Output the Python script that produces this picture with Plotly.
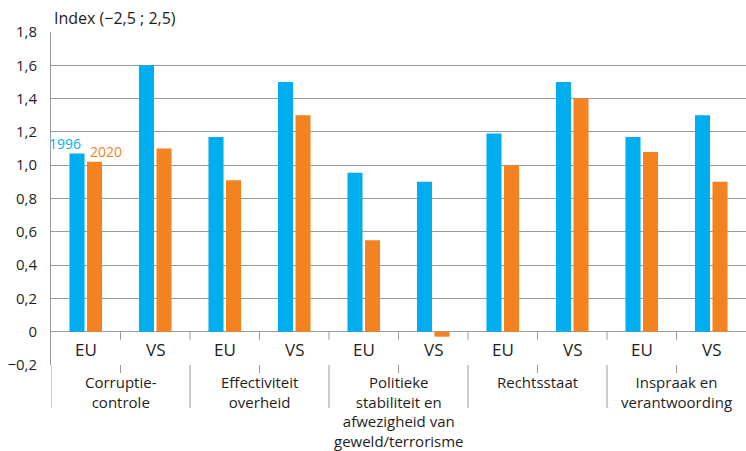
import plotly.graph_objects as go

groups = ["Corruptie-<br>controle", "Effectiviteit<br>overheid",
          "Politieke<br>stabiliteit en<br>afwezigheid van<br>geweld/terrorisme",
          "Rechtsstaat", "Inspraak en<br>verantwoording"]
subs = ["EU", "VS"]
series_names = ["1996", "2020"]
v1996 = [1.07, 1.60, 1.17, 1.50, 0.955, 0.90, 1.19, 1.50, 1.17, 1.30]
v2020 = [1.02, 1.10, 0.91, 1.30, 0.55, -0.03, 1.00, 1.40, 1.08, 0.90]
yticks = [-0.2, 0, 0.2, 0.4, 0.6, 0.8, 1.0, 1.2, 1.4, 1.6, 1.8]
yticktext = ["\u22120,2", "0", "0,2", "0,4", "0,6", "0,8", "1,0", "1,2", "1,4", "1,6", "1,8"]

BLUE = "#00ADEF"
ORANGE = "#F58220"
GRID = "#999999"
TXT = "#1e1e1e"
FONT = "Open Sans"

xpos = list(range(len(v1996)))

fig = go.Figure()
fig.add_trace(go.Bar(x=xpos, y=v1996, name=series_names[0], marker_color=BLUE,
                     marker_line_width=0))
fig.add_trace(go.Bar(x=xpos, y=v2020, name=series_names[1], marker_color=ORANGE,
                     marker_line_width=0))

W, H = 746, 451
ML, MR = 51, 0
PT, PB = 32, 365
PH = PB - PT
PW = W - ML - MR

def py2paper(py):
    return (PB - py) / PH

def px2paper(px):
    return (px - ML) / PW

shapes = []
n = len(xpos)
# small ticks at the 0 line at every subgroup boundary
for k in range(n - 1):
    b = k + 0.5
    shapes.append(dict(type="line", xref="x", yref="y", x0=b, x1=b, y0=0, y1=-0.048,
                       line=dict(color=GRID, width=1)))
# ticks at the -0.2 line at subgroup midpoints inside groups
for g in range(len(groups)):
    m = 2 * g + 0.5
    shapes.append(dict(type="line", xref="x", yref="paper", x0=m, x1=m, y0=0, y1=py2paper(373),
                       line=dict(color=GRID, width=1)))
# group divider lines
for g in range(len(groups)):
    b = 2 * g - 0.5
    shapes.append(dict(type="line", xref="x", yref="paper", x0=b, x1=b, y0=0, y1=py2paper(408),
                       line=dict(color=GRID, width=1)))

annotations = []
for i in xpos:
    annotations.append(dict(x=i, y=-0.1, xref="x", yref="y", text=subs[i % 2], showarrow=False,
                            yshift=-1, font=dict(family=FONT, size=17, color=TXT)))
for g, lab in enumerate(groups):
    annotations.append(dict(x=2 * g + 0.5, y=py2paper(371), xref="x", yref="paper",
                            text=lab, showarrow=False, yanchor="top", xanchor="center",
                            borderpad=0, font=dict(family=FONT, size=15, color=TXT)))
annotations.append(dict(x=px2paper(52), y=py2paper(18), xref="paper", yref="paper",
                        text="Index (\u22122,5 ; 2,5)",
                        showarrow=False, xanchor="left", yanchor="middle",
                        font=dict(family=FONT, size=16, color=TXT)))
# series labels
annotations.append(dict(x=-0.04, y=v1996[0], xref="x", yref="y", text=series_names[0],
                        showarrow=False, xanchor="right", yanchor="bottom", yshift=-1,
                        font=dict(family=FONT, size=14, color=BLUE)))
annotations.append(dict(x=0.03, y=v2020[0], xref="x", yref="y", text=series_names[1],
                        showarrow=False, xanchor="left", yanchor="bottom", yshift=-1,
                        font=dict(family=FONT, size=14, color=ORANGE)))

fig.update_layout(
    width=W, height=H,
    margin=dict(l=ML, r=MR, t=PT, b=H - PB, pad=0, autoexpand=False),
    paper_bgcolor="white", plot_bgcolor="white",
    barmode="group", bargap=0.496, bargroupgap=0.14,
    showlegend=False,
    font=dict(family=FONT, size=15, color=TXT),
    xaxis=dict(range=[-0.5, n - 0.5], showticklabels=False, showgrid=False, zeroline=False,
               showline=False, ticks="", fixedrange=True),
    yaxis=dict(range=[-0.2, 1.8], tickvals=yticks, ticktext=yticktext, showgrid=True,
               gridcolor=GRID, gridwidth=1, zeroline=False, showline=True, linecolor=GRID,
               linewidth=1, ticks="", ticklabelstandoff=10, automargin=False,
               tickfont=dict(family=FONT, size=15, color=TXT), fixedrange=True),
    shapes=shapes, annotations=annotations,
)

fig.write_html("out.html", config={"displayModeBar": False},
               post_script="document.body.style.margin='0';")
